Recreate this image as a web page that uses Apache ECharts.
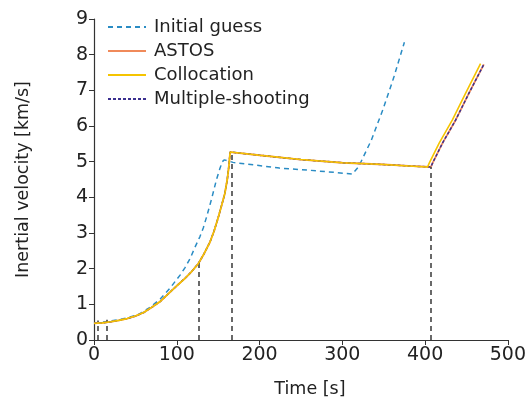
<!DOCTYPE html>
<html>
<head>
<meta charset="utf-8">
<script src="https://cdn.jsdelivr.net/npm/echarts@6/dist/echarts.min.js"></script>
<style>html,body{margin:0;padding:0;background:#fff}#c{width:529px;height:403px}</style>
</head>
<body>
<div id="c"></div>
<script>
// ---- data ----
const xTicks = [0, 100, 200, 300, 400, 500];
const yTicks = [0, 1, 2, 3, 4, 5, 6, 7, 8, 9];

const guessTime = [0, 20, 40, 55, 68, 80, 92, 104, 110, 116, 122, 128, 132, 136, 142, 148, 152, 155, 157.5, 168, 224, 260, 290, 312, 320, 335, 349, 362, 375];
const guessVel  = [0.47, 0.53, 0.62, 0.73, 0.92, 1.15, 1.46, 1.82, 2.03, 2.28, 2.6, 2.9, 3.14, 3.45, 3.95, 4.5, 4.8, 5.0, 5.05, 4.98, 4.82, 4.76, 4.7, 4.65, 4.87, 5.6, 6.46, 7.35, 8.35];

const astosTime = [0, 10, 20, 30, 40, 50, 60, 70, 80, 90, 100, 110, 118, 126, 133, 140, 145, 150, 154, 158, 161, 162.5, 163.5, 164.5, 200, 250, 300, 350, 380, 407, 409, 421, 437, 453, 471];
const astosVel  = [0.47, 0.48, 0.51, 0.55, 0.6, 0.67, 0.77, 0.92, 1.08, 1.3, 1.52, 1.73, 1.92, 2.14, 2.42, 2.74, 3.05, 3.43, 3.76, 4.1, 4.5, 4.78, 5.02, 5.27, 5.18, 5.06, 4.97, 4.92, 4.88, 4.85, 4.96, 5.52, 6.17, 6.92, 7.73];

const collocTime = [0, 10, 20, 30, 40, 50, 60, 70, 80, 90, 100, 110, 118, 126, 133, 140, 145, 150, 154, 158, 161, 162.5, 163.5, 164.5, 200, 250, 300, 350, 380, 403, 405, 417, 433, 449, 467];
const collocVel  = [0.47, 0.48, 0.51, 0.55, 0.6, 0.67, 0.77, 0.92, 1.08, 1.3, 1.52, 1.73, 1.92, 2.14, 2.42, 2.74, 3.05, 3.43, 3.76, 4.1, 4.5, 4.78, 5.02, 5.27, 5.18, 5.06, 4.97, 4.92, 4.88, 4.85, 4.96, 5.52, 6.17, 6.92, 7.75];

const msTime = [0, 10, 20, 30, 40, 50, 60, 70, 80, 90, 100, 110, 118, 126, 133, 140, 145, 150, 154, 158, 161, 162.5, 163.5, 164.5, 200, 250, 300, 350, 380, 407, 409, 421, 437, 453, 471];
const msVel  = [0.47, 0.48, 0.51, 0.55, 0.6, 0.67, 0.77, 0.92, 1.08, 1.3, 1.52, 1.73, 1.92, 2.14, 2.42, 2.74, 3.05, 3.43, 3.76, 4.1, 4.5, 4.78, 5.02, 5.27, 5.18, 5.06, 4.97, 4.92, 4.88, 4.85, 4.96, 5.52, 6.17, 6.92, 7.73];

const phaseTime = [5, 16, 127, 167, 407];
const phaseVel  = [0.55, 0.57, 2.17, 5.25, 4.85];

const seriesNames = ['Initial guess', 'ASTOS', 'Collocation', 'Multiple-shooting'];
// ---------------

const pairs = (t, v) => t.map((x, i) => [x, v[i]]);
const FONT = 'DejaVu Sans';

const chart = echarts.init(document.getElementById('c'), null, {renderer: 'canvas'});
chart.setOption({
  animation: false,
  backgroundColor: '#ffffff',
  grid: {left: 94, right: 20, top: 19, bottom: 62, containLabel: false},
  legend: {
    data: seriesNames,
    orient: 'vertical',
    left: 107,
    top: 18,
    padding: 0,
    itemWidth: 38,
    itemHeight: 14,
    itemGap: 6,
    itemStyle: {opacity: 0, borderWidth: 0},
    textStyle: {fontFamily: FONT, fontSize: 18, color: '#222', padding: [0, 0, 0, 3]}
  },
  xAxis: {
    type: 'value', min: 0, max: 500, interval: 100,
    name: 'Time [s]', nameLocation: 'middle', nameGap: 40,
    nameTextStyle: {fontFamily: FONT, fontSize: 17.5, color: '#222', padding: [0, 0, 0, 18]},
    axisLine: {show: true, lineStyle: {color: '#333', width: 1.2}},
    axisTick: {show: true, inside: false, length: 5, lineStyle: {color: '#333'}},
    axisLabel: {fontFamily: FONT, fontSize: 19, color: '#222', margin: 6,
      formatter: v => xTicks.includes(v) ? String(v) : ''},
    splitLine: {show: false}
  },
  yAxis: {
    type: 'value', min: 0, max: 9, interval: 1,
    name: 'Inertial velocity [km/s]', nameLocation: 'middle', nameGap: 62,
    nameTextStyle: {fontFamily: FONT, fontSize: 17.5, color: '#222'},
    axisLine: {show: true, lineStyle: {color: '#333', width: 1.2}},
    axisTick: {show: true, inside: false, length: 5, lineStyle: {color: '#333'}},
    axisLabel: {fontFamily: FONT, fontSize: 19, color: '#222', margin: 6,
      formatter: v => yTicks.includes(v) ? String(v) : ''},
    splitLine: {show: false}
  },
  series: [
    {
      name: 'Initial guess', type: 'line', symbol: 'none', z: 2,
      data: pairs(guessTime, guessVel),
      lineStyle: {color: '#2a8cc4', width: 1.5, type: [5, 4]},
      itemStyle: {color: '#2a8cc4'}
    },
    {
      name: 'ASTOS', type: 'line', symbol: 'none', z: 3,
      data: pairs(astosTime, astosVel),
      lineStyle: {color: '#f08a5a', width: 1.8},
      itemStyle: {color: '#f08a5a'}
    },
    {
      name: 'Multiple-shooting', type: 'line', symbol: 'none', z: 4,
      data: pairs(msTime, msVel),
      lineStyle: {color: '#3b2f8f', width: 1.5, type: [3, 2]},
      itemStyle: {color: '#3b2f8f'}
    },
    {
      name: 'Collocation', type: 'line', symbol: 'none', z: 5,
      data: pairs(collocTime, collocVel),
      lineStyle: {color: '#f5c400', width: 1.6},
      itemStyle: {color: '#f5c400'}
    },
    {
      name: 'phases', type: 'line', symbol: 'none', z: 1, data: [],
      markLine: {
        silent: true, symbol: ['none', 'none'], animation: false,
        label: {show: false},
        lineStyle: {color: '#444', width: 1.6, type: [5, 4]},
        data: phaseTime.map((t, i) => [{coord: [t, 0]}, {coord: [t, phaseVel[i]]}])
      }
    }
  ]
});
</script>
</body>
</html>
